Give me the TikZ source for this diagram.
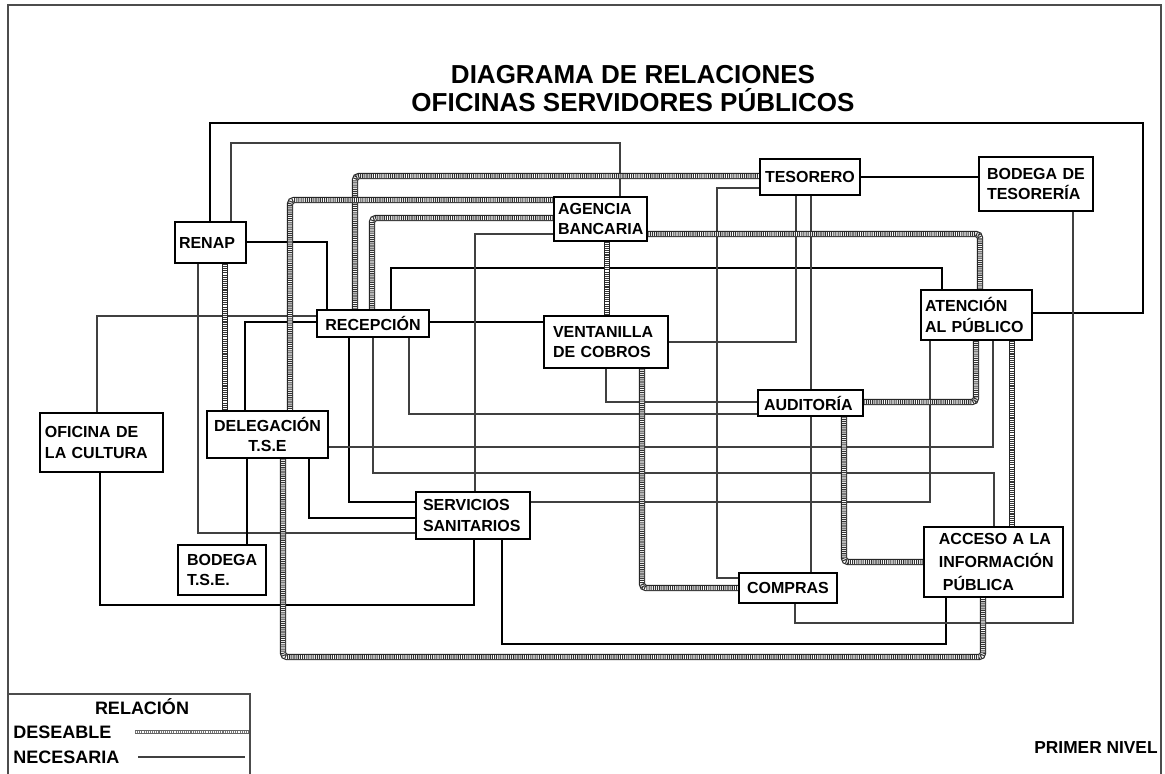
\documentclass[tikz,border=0pt]{standalone}
\usepackage{fontspec}
\setmainfont{Liberation Sans}
\usetikzlibrary{backgrounds}
\begin{document}
\begin{tikzpicture}[x=0.75pt,y=-0.75pt,
  box/.style={draw=black, line width=1pt, fill=white, inner sep=0pt,
    font=\bfseries\fontsize{12}{15.5}\selectfont},
  nec/.style={draw=black!75, line width=0.8pt},
  necb/.style={draw=black, line width=1.3pt},
  des/.style={draw=black!85, line width=4.8pt, rounded corners=3pt,
    postaction={draw=white, line width=3pt},
    postaction={draw=black!80, line width=3pt, dash pattern=on 0.8pt off 0.8pt}},
  deslg/.style={draw=black!60, line width=3pt,
    postaction={draw=white, line width=1.6pt},
    postaction={draw=black!55, line width=1.6pt, dash pattern=on 0.8pt off 0.8pt}},
  lab/.style={font=\bfseries\fontsize{13.5}{16}\selectfont, inner sep=0pt},
]
\useasboundingbox (0,0) rectangle (1165,774);
\begin{scope}
\clip (0,0) rectangle (1165,774);
\draw[black!70, line width=0.8pt] (8,5) rectangle (1161,800);
\draw[black!70, line width=0.8pt, fill=white] (8,694) rectangle (250,800);
\end{scope}

% title
\node[align=center, font=\bfseries\fontsize{19.5}{21}\selectfont] (title) at (633,89)
  {DIAGRAMA DE RELACIONES\\OFICINAS SERVIDORES PÚBLICOS};
\node[font=\bfseries\fontsize{13}{15}\selectfont, inner sep=0pt] (nivel) at (1096,748) {PRIMER NIVEL};

% nodes
\node[box, line width=1.3pt, minimum width=71*0.75pt, minimum height=41*0.75pt, text width=47.25pt, align=left] (renap) at (210.5,242.5) {RENAP};
\node[box, minimum width=112*0.75pt, minimum height=27*0.75pt, align=center] (recep) at (373,323.5) {RECEPCIÓN};
\node[box, minimum width=93*0.75pt, minimum height=44*0.75pt, text width=63.75pt, align=left] (agencia) at (600.5,219) {AGENCIA\\BANCARIA};
\node[box, minimum width=100*0.75pt, minimum height=36*0.75pt, text width=67.5pt, align=left] (tesorero) at (810,177) {TESORERO};
\node[box, line width=1.3pt, minimum width=114*0.75pt, minimum height=54*0.75pt, text width=73.5pt, align=left] (bodtes) at (1036,184) {BODEGA DE\\TESORERÍA};
\node[box, minimum width=111*0.75pt, minimum height=50*0.75pt, text width=77.25pt, align=left] (atencion) at (976.5,315) {ATENCIÓN\\AL PÚBLICO};
\node[box, minimum width=124*0.75pt, minimum height=52*0.75pt, text width=79.5pt, align=left] (ventanilla) at (606,342) {VENTANILLA\\DE COBROS};
\node[box, minimum width=105*0.75pt, minimum height=26*0.75pt, text width=69.75pt, align=left] (auditoria) at (810.5,403) {AUDITORÍA};
\node[box, minimum width=121*0.75pt, minimum height=47*0.75pt, align=center] (delegacion) at (267.5,434.5) {DELEGACIÓN\\T.S.E};
\node[box, minimum width=123*0.75pt, minimum height=59*0.75pt, text width=84.75pt, align=left] (oficina) at (101.5,442.5) {OFICINA DE\\LA CULTURA};
\node[box, minimum width=88*0.75pt, minimum height=50*0.75pt, text width=52.5pt, align=left] (bodtse) at (222,570) {BODEGA\\T.S.E.};
\node[box, minimum width=114*0.75pt, minimum height=47*0.75pt, text width=75pt, align=left] (servicios) at (473,515.5) {SERVICIOS\\SANITARIOS};
\node[box, minimum width=98*0.75pt, minimum height=30*0.75pt, text width=61.5pt, align=left] (compras) at (788,588) {COMPRAS};
\node[box, line width=1.3pt, minimum width=139*0.75pt, minimum height=70*0.75pt, text width=94.5pt, align=left,
  font=\bfseries\fontsize{12}{17}\selectfont] (acceso) at (993.5,562)
  {\hspace*{6.3pt}ACCESO A LA\\\hspace*{6.3pt}INFORMACIÓN\\\hspace*{9.3pt}PÚBLICA};

% legend
\node[lab] (relacion) at (142,707) {RELACIÓN};
\node[lab, anchor=west] (deseable) at (13,732) {DESEABLE};
\node[lab, anchor=west] (necesaria) at (13,757) {NECESARIA};
\coordinate (ld1) at (135,732);
\coordinate (ld2) at (249,732);
\coordinate (ln1) at (138,757);
\coordinate (ln2) at (245,757);
\draw[deslg] (ld1) -- (ld2);
\draw[nec] (ln1) -- (ln2);

\begin{pgfonlayer}{background}
% necessary relations
\draw[necb] (renap.north -| 210,0) -- (210,123) -- (1143,123) -- (1143,313) -- (atencion.east |- 0,313);
\draw[nec] (renap.north -| 231,0) -- (231,143) -- (620,143) -- (agencia.north -| 620,0);
\draw[necb] (renap.east |- 0,242) -| (recep.north -| 327,0);
\draw[nec] (renap.south -| 198,0) |- (servicios.west |- 0,533);
\draw[nec] (recep.west |- 0,316) -| (oficina.north -| 97,0);
\draw[necb] (recep.west |- 0,322) -| (delegacion.north -| 245,0);
\draw[necb] (recep.east |- 0,322) -- (ventanilla.west |- 0,322);
\draw[nec] (recep.south -| 409,0) |- (auditoria.west |- 0,414);
\draw[nec] (recep.south -| 373,0) -- (373,473) -| (acceso.north -| 994,0);
\draw[necb] (recep.south -| 349,0) |- (servicios.west |- 0,502);
\draw[necb] (recep.north -| 391,0) -- (391,268) -| (atencion.north -| 942,0);
\draw[nec] (agencia.west |- 0,234) -| (servicios.north -| 475,0);
\draw[necb] (oficina.south -| 100,0) -- (100,605) -| (servicios.south -| 474,0);
\draw[nec] (delegacion.east |- 0,447) -| (atencion.south -| 993,0);
\draw[necb] (delegacion.south -| 247,0) -- (bodtse.north -| 247,0);
\draw[necb] (delegacion.south -| 309,0) |- (servicios.west |- 0,518);
\draw[nec] (servicios.east |- 0,502) -| (atencion.south -| 930,0);
\draw[necb] (servicios.south -| 502,0) -- (502,644) -| (acceso.south -| 946,0);
\draw[nec] (ventanilla.east |- 0,342) -| (tesorero.south -| 796,0);
\draw[nec] (tesorero.west |- 0,188) -- (717,188) |- (compras.west |- 0,578);
\draw[nec] (tesorero.south -| 811,0) -- (auditoria.north -| 811,0);
\draw[nec] (auditoria.south -| 811,0) -- (compras.north -| 811,0);
\draw[necb] (tesorero.east |- 0,177) -- (bodtes.west |- 0,177);
\draw[nec] (bodtes.south -| 1073,0) -- (1073,623) -| (compras.south -| 795,0);
\draw[nec] (ventanilla.south -| 606,0) |- (auditoria.west |- 0,402);
% desirable relations
\draw[des] (recep.north -| 355,0) -- (355,176) -- (tesorero.west |- 0,176);
\draw[des] (agencia.west |- 0,200) -| (delegacion.north -| 290,0);
\draw[des] (agencia.west |- 0,218) -| (recep.north -| 372,0);
\draw[des] (renap.south -| 225,0) -- (delegacion.north -| 225,0);
\draw[des] (agencia.east |- 0,234) -| (atencion.north -| 980,0);
\draw[des] (agencia.south -| 607,0) -- (ventanilla.north -| 607,0);
\draw[des] (ventanilla.south -| 642,0) |- (compras.west |- 0,588);
\draw[des] (auditoria.east |- 0,402) -| (atencion.south -| 976,0);
\draw[des] (auditoria.south -| 844,0) |- (acceso.west |- 0,562);
\draw[des] (atencion.south -| 1012,0) -- (acceso.north -| 1012,0);
\draw[des] (delegacion.south -| 283,0) -- (283,657) -| (acceso.south -| 983,0);
\end{pgfonlayer}
\end{tikzpicture}
\end{document}
